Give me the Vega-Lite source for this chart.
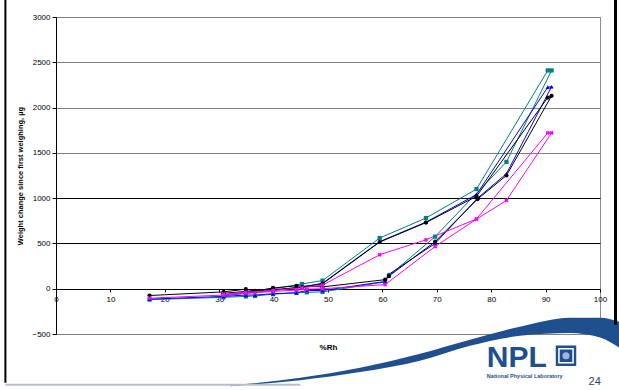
{
  "$schema": "https://vega.github.io/schema/vega-lite/v6.json",
  "autosize": "none",
  "width": 544,
  "height": 317,
  "padding": {"left": 56, "top": 17, "right": 19, "bottom": 56},
  "background": "#ffffff",
  "config": {
    "view": {"stroke": "#8c8c8c", "strokeWidth": 1},
    "font": "Liberation Sans"
  },
  "datasets": {
    "sorption": [
      {"s": "A", "i": 0, "x": 17.2, "y": -120},
      {"s": "A", "i": 1, "x": 30.8, "y": -95},
      {"s": "A", "i": 2, "x": 34.9, "y": -85},
      {"s": "A", "i": 3, "x": 36.6, "y": -80},
      {"s": "A", "i": 4, "x": 39.9, "y": -60},
      {"s": "A", "i": 5, "x": 44.2, "y": -45},
      {"s": "A", "i": 6, "x": 46.1, "y": -40},
      {"s": "A", "i": 7, "x": 49.0, "y": -35},
      {"s": "A", "i": 8, "x": 60.5, "y": 75},
      {"s": "A", "i": 9, "x": 61.2, "y": 145},
      {"s": "A", "i": 10, "x": 69.7, "y": 575},
      {"s": "A", "i": 11, "x": 82.8, "y": 1400},
      {"s": "A", "i": 12, "x": 91.1, "y": 2410},
      {"s": "A", "i": 13, "x": 90.4, "y": 2410},
      {"s": "A", "i": 14, "x": 77.3, "y": 1100},
      {"s": "A", "i": 15, "x": 68.0, "y": 780},
      {"s": "A", "i": 16, "x": 59.5, "y": 560},
      {"s": "A", "i": 17, "x": 49.0, "y": 90},
      {"s": "A", "i": 18, "x": 45.2, "y": 52},
      {"s": "A", "i": 19, "x": 39.9, "y": 0},
      {"s": "A", "i": 20, "x": 34.9, "y": -40},
      {"s": "A", "i": 21, "x": 30.8, "y": -70},

      {"s": "B", "i": 0, "x": 17.2, "y": -115},
      {"s": "B", "i": 1, "x": 30.8, "y": -85},
      {"s": "B", "i": 2, "x": 34.9, "y": -70},
      {"s": "B", "i": 3, "x": 36.6, "y": -70},
      {"s": "B", "i": 4, "x": 39.9, "y": -55},
      {"s": "B", "i": 5, "x": 44.2, "y": -45},
      {"s": "B", "i": 6, "x": 46.1, "y": -20},
      {"s": "B", "i": 7, "x": 49.0, "y": -20},
      {"s": "B", "i": 8, "x": 60.5, "y": 80},
      {"s": "B", "i": 9, "x": 61.2, "y": 160},
      {"s": "B", "i": 10, "x": 69.7, "y": 500},
      {"s": "B", "i": 11, "x": 77.5, "y": 1000},
      {"s": "B", "i": 12, "x": 82.8, "y": 1270},
      {"s": "B", "i": 13, "x": 91.1, "y": 2230},
      {"s": "B", "i": 14, "x": 90.4, "y": 2225},
      {"s": "B", "i": 15, "x": 77.3, "y": 1040},
      {"s": "B", "i": 16, "x": 68.0, "y": 735},
      {"s": "B", "i": 17, "x": 59.5, "y": 520},
      {"s": "B", "i": 18, "x": 49.0, "y": 60},
      {"s": "B", "i": 19, "x": 45.2, "y": 20},
      {"s": "B", "i": 20, "x": 39.9, "y": -20},
      {"s": "B", "i": 21, "x": 34.9, "y": -50},
      {"s": "B", "i": 22, "x": 30.8, "y": -75},

      {"s": "C", "i": 0, "x": 17.2, "y": -75},
      {"s": "C", "i": 1, "x": 30.8, "y": -35},
      {"s": "C", "i": 2, "x": 34.9, "y": -5},
      {"s": "C", "i": 3, "x": 36.6, "y": -25},
      {"s": "C", "i": 4, "x": 39.9, "y": 8},
      {"s": "C", "i": 5, "x": 44.2, "y": 32},
      {"s": "C", "i": 6, "x": 49.0, "y": 20},
      {"s": "C", "i": 7, "x": 60.5, "y": 100},
      {"s": "C", "i": 8, "x": 61.2, "y": 140},
      {"s": "C", "i": 9, "x": 69.7, "y": 520},
      {"s": "C", "i": 10, "x": 77.5, "y": 990},
      {"s": "C", "i": 11, "x": 82.8, "y": 1250},
      {"s": "C", "i": 12, "x": 91.1, "y": 2130},
      {"s": "C", "i": 13, "x": 90.4, "y": 2110},
      {"s": "C", "i": 14, "x": 77.3, "y": 1020},
      {"s": "C", "i": 15, "x": 68.0, "y": 730},
      {"s": "C", "i": 16, "x": 59.5, "y": 515},
      {"s": "C", "i": 17, "x": 49.0, "y": 55},
      {"s": "C", "i": 18, "x": 45.2, "y": 15},
      {"s": "C", "i": 19, "x": 39.9, "y": -10},
      {"s": "C", "i": 20, "x": 34.9, "y": -30},
      {"s": "C", "i": 21, "x": 30.8, "y": -50},

      {"s": "D", "i": 0, "x": 17.2, "y": -105},
      {"s": "D", "i": 1, "x": 30.8, "y": -70},
      {"s": "D", "i": 2, "x": 34.9, "y": -50},
      {"s": "D", "i": 3, "x": 36.6, "y": -45},
      {"s": "D", "i": 4, "x": 39.9, "y": -30},
      {"s": "D", "i": 5, "x": 44.2, "y": -15},
      {"s": "D", "i": 6, "x": 46.1, "y": -5},
      {"s": "D", "i": 7, "x": 49.0, "y": 0},
      {"s": "D", "i": 8, "x": 60.5, "y": 45},
      {"s": "D", "i": 9, "x": 69.7, "y": 466},
      {"s": "D", "i": 10, "x": 77.3, "y": 768},
      {"s": "D", "i": 11, "x": 82.8, "y": 975},
      {"s": "D", "i": 12, "x": 91.1, "y": 1720},
      {"s": "D", "i": 13, "x": 90.4, "y": 1720},
      {"s": "D", "i": 14, "x": 77.3, "y": 770},
      {"s": "D", "i": 15, "x": 68.0, "y": 540},
      {"s": "D", "i": 16, "x": 59.5, "y": 375},
      {"s": "D", "i": 17, "x": 49.0, "y": 40},
      {"s": "D", "i": 18, "x": 45.2, "y": 10},
      {"s": "D", "i": 19, "x": 39.9, "y": -20},
      {"s": "D", "i": 20, "x": 34.9, "y": -40},
      {"s": "D", "i": 21, "x": 30.8, "y": -60}
    ],
    "swoosh": [
      {"x": 32.0, "y": -1071, "y2": -1078},
      {"x": 44.9, "y": -983, "y2": -1010},
      {"x": 55.9, "y": -872, "y2": -920},
      {"x": 66.9, "y": -718, "y2": -795},
      {"x": 76.1, "y": -563, "y2": -630},
      {"x": 85.3, "y": -420, "y2": -520},
      {"x": 94.5, "y": -320, "y2": -490},
      {"x": 100.0, "y": -320, "y2": -540},
      {"x": 103.5, "y": -364, "y2": -650}
    ],
    "leftEdge": [{"x": -9.3, "y": 3191, "y2": -1038}],
    "rightEdge": [{"x": 102.85, "y": 3191, "y2": -397}],
    "footLine": [{"x": -9.3, "x2": 44.9, "y": -1060}],
    "logoMark": [{"x": 93.75, "y": -740}],
    "logoWord": [{"x": 79.2, "y": -861, "t": "NPL"}],
    "logoSub": [{"x": 79.2, "y": -990, "t": "National Physical Laboratory"}],
    "pageNo": [{"x": 97.9, "y": -1060, "t": "24"}]
  },
  "encoding": {
    "x": {
      "field": "x",
      "type": "quantitative",
      "scale": {"domain": [0, 100], "nice": false, "zero": false},
      "axis": {
        "title": "%Rh",
        "titleFont": "Liberation Sans",
        "titleFontSize": 8,
        "titleFontWeight": "bold",
        "titleColor": "#000000",
        "titlePadding": 40,
        "values": [0, 10, 20, 30, 40, 50, 60, 70, 80, 90, 100],
        "format": "d",
        "offset": -45,
        "grid": false,
        "domainColor": "#000000",
        "tickColor": "#000000",
        "tickSize": 3,
        "labelPadding": 3,
        "labelFont": "Liberation Sans",
        "labelFontSize": 8,
        "labelColor": "#000000",
        "labelFlush": false
      }
    },
    "y": {
      "field": "y",
      "type": "quantitative",
      "scale": {"domain": [-500, 3000], "nice": false, "zero": false},
      "axis": {
        "title": "Weight change since first weighing,  µg",
        "titleFont": "Liberation Sans",
        "titleFontSize": 7.5,
        "titleFontWeight": "bold",
        "titleColor": "#000000",
        "titlePadding": 7,
        "values": [-500, 0, 500, 1000, 1500, 2000, 2500, 3000],
        "format": "d",
        "grid": true,
        "gridColor": {"condition": {"test": "datum.value >= 1500 || datum.value < 0", "value": "#808080"}, "value": "#000000"},
        "gridWidth": 1,
        "domainColor": "#000000",
        "tickColor": "#000000",
        "tickSize": 4,
        "labelPadding": 2,
        "labelFont": "Liberation Sans",
        "labelFontSize": 8,
        "labelColor": "#000000",
        "labelFlush": false
      }
    }
  },
  "layer": [
    {
      "data": {"name": "sorption"},
      "mark": {"type": "line", "strokeWidth": 1},
      "encoding": {
        "color": {
          "field": "s",
          "type": "nominal",
          "scale": {"domain": ["A", "B", "C", "D"], "range": ["#008080", "#0000ff", "#000000", "#ff00ff"]},
          "legend": null
        },
        "order": {"field": "i", "type": "quantitative"}
      }
    },
    {
      "data": {"name": "sorption"},
      "mark": {"type": "point", "filled": true, "opacity": 1, "size": 18},
      "encoding": {
        "color": {
          "field": "s",
          "type": "nominal",
          "scale": {"domain": ["A", "B", "C", "D"], "range": ["#008080", "#0000ff", "#000000", "#ff00ff"]},
          "legend": null
        },
        "shape": {
          "field": "s",
          "type": "nominal",
          "scale": {"domain": ["A", "B", "C", "D"], "range": ["square", "triangle-up", "circle", "cross"]},
          "legend": null
        },
        "angle": {"condition": {"test": "datum.s === 'D'", "value": 45}, "value": 0}
      }
    },
    {
      "data": {"name": "swoosh"},
      "mark": {"type": "area", "interpolate": "monotone", "color": "#1f4f8f"},
      "encoding": {"y2": {"field": "y2"}}
    },
    {
      "data": {"name": "footLine"},
      "mark": {"type": "rule", "color": "#b4c0cf", "strokeWidth": 2},
      "encoding": {"x2": {"field": "x2"}}
    },
    {
      "data": {"name": "leftEdge"},
      "mark": {"type": "rule", "color": "#000000", "strokeWidth": 2},
      "encoding": {"y2": {"field": "y2"}}
    },
    {
      "data": {"name": "rightEdge"},
      "mark": {"type": "rule", "color": "#000000", "strokeWidth": 3},
      "encoding": {"y2": {"field": "y2"}}
    },
    {
      "data": {"name": "logoMark"},
      "mark": {"type": "square", "color": "#1f4f8f", "size": 420, "opacity": 1}
    },
    {
      "data": {"name": "logoMark"},
      "mark": {"type": "point", "shape": "square", "filled": false, "stroke": "#ffffff", "strokeWidth": 1.5, "size": 200, "opacity": 1}
    },
    {
      "data": {"name": "logoMark"},
      "mark": {"type": "circle", "color": "#9fb6d6", "size": 50, "opacity": 1}
    },
    {
      "data": {"name": "logoWord"},
      "mark": {"type": "text", "align": "left", "baseline": "alphabetic", "font": "Liberation Sans", "fontSize": 30, "fontWeight": "bold", "color": "#1f4f8f"},
      "encoding": {"text": {"field": "t"}}
    },
    {
      "data": {"name": "logoSub"},
      "mark": {"type": "text", "align": "left", "baseline": "alphabetic", "font": "Liberation Sans", "fontSize": 5.5, "fontWeight": "bold", "color": "#1f4f8f"},
      "encoding": {"text": {"field": "t"}}
    },
    {
      "data": {"name": "pageNo"},
      "mark": {"type": "text", "align": "left", "baseline": "alphabetic", "font": "Liberation Sans", "fontSize": 11, "color": "#2b3f63"},
      "encoding": {"text": {"field": "t"}}
    }
  ]
}
